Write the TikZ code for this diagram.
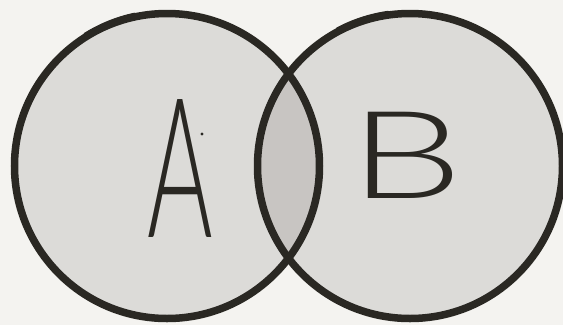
\documentclass[tikz,border=0pt]{standalone}
\usepackage{fontspec}
\IfFontExistsTF{Lato Light}{\newfontfamily\hand{Lato Light}}{%
  \IfFontExistsTF{Open Sans Light}{\newfontfamily\hand{Open Sans Light}}{%
    \newfontfamily\hand{Lato}}}
\definecolor{bg}{HTML}{F4F3F0}
\definecolor{setfill}{HTML}{DCDBD8}
\definecolor{lensfill}{HTML}{C8C5C2}
\definecolor{ink}{HTML}{2A2823}
\begin{document}
\begin{tikzpicture}[x=1pt,y=-1pt,
  setring/.style={circle,draw=ink,line width=7.5pt,inner sep=0pt,minimum size=305pt},
  letter/.style={font=\hand\fontsize{100}{100}\selectfont,text=ink,inner sep=0pt,anchor=base,transform shape}]
\useasboundingbox[fill=bg] (0,0) rectangle (563,325);
\coordinate (cA) at (167,166);
\coordinate (cB) at (410,166);
\fill[setfill] (cA) circle (152.5);
\fill[setfill] (cB) circle (152.5);
\begin{scope}
  \clip (cA) circle (152.5);
  \fill[lensfill] (cB) circle (152.5);
\end{scope}
\node[setring] (setA) at (cA) {};
\node[setring] (setB) at (cB) {};
% hand-drawn overlap strokes at the top
\draw[ink,line width=3.5pt,line cap=round] ([shift={(-102:155)}]cA) arc[start angle=-102,end angle=-122,radius=155];
\draw[ink,line width=3.5pt,line cap=round] ([shift={(-98:155)}]cB) arc[start angle=-98,end angle=-118,radius=155];
\begin{scope}[shift={(180,237)}]
  \node[letter,xscale=1.0,yscale=1.95] (labA) at (0,0) {A};
\end{scope}
\fill[ink] (202,134) circle (1.6);
\begin{scope}[shift={(406,198)}]
  \node[letter,xscale=1.8,yscale=1.22] (labB) at (0,0) {B};
\end{scope}
\end{tikzpicture}
\end{document}
